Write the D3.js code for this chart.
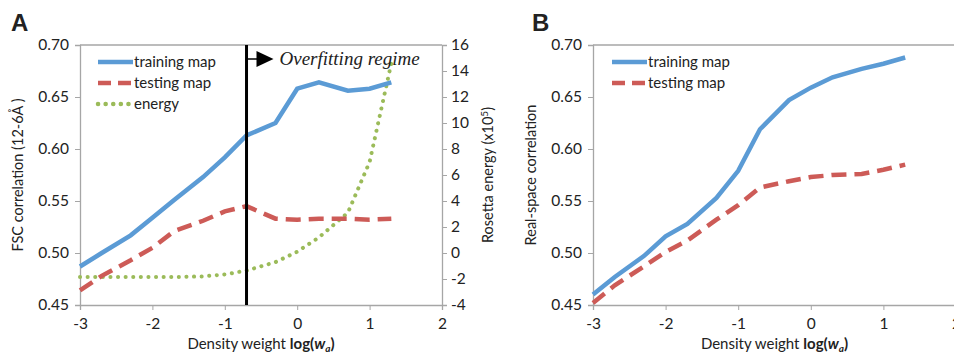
<!DOCTYPE html>
<html>
<head>
<meta charset="utf-8">
<script src="https://cdn.jsdelivr.net/npm/d3@7"></script>
<style>
  body { margin: 0; background: #fff; }
  svg text { font-family: Lato, "Open Sans", sans-serif; fill: #222; }
</style>
</head>
<body>
<svg id="chart" width="954" height="353"></svg>
<script>
// log10 of density weight (0.001 ... 20)
var logW = [-3, -2.7, -2.3, -2, -1.7, -1.3, -1, -0.7, -0.3, 0, 0.3, 0.7, 1, 1.3];

// panel A
var trainA  = [0.487, 0.500, 0.517, 0.534, 0.551, 0.573, 0.592, 0.613, 0.625, 0.658, 0.664, 0.656, 0.658, 0.664];
var testA   = [0.464, 0.478, 0.493, 0.505, 0.521, 0.531, 0.540, 0.545, 0.533, 0.532, 0.533, 0.533, 0.532, 0.533];
var energyA = [-1.85, -1.85, -1.85, -1.85, -1.85, -1.8, -1.65, -1.35, -0.7, 0.1, 1.2, 3.1, 7.0, 14.6];

// panel B
var trainB = [0.460, 0.477, 0.497, 0.516, 0.528, 0.553, 0.579, 0.619, 0.647, 0.659, 0.669, 0.677, 0.682, 0.688];
var testB  = [0.452, 0.469, 0.487, 0.501, 0.512, 0.532, 0.546, 0.563, 0.569, 0.573, 0.575, 0.576, 0.580, 0.585];

var xTicks = [-3, -2, -1, 0, 1, 2];
var yTicks = [0.45, 0.50, 0.55, 0.60, 0.65, 0.70];
var eTicks = [-4, -2, 0, 2, 4, 6, 8, 10, 12, 14, 16];
var overfitAt = -0.7;

var cBlue = "#5b9bd5", cRed = "#cd5b57", cGreen = "#9bbb59", cAxis = "#a6a6a6";

var svg = d3.select("#chart");

// excel style: plain hyphen for negatives
function plain(d) { return String(d); }

function styleAxis(a) {
    a.select(".domain").attr("stroke", cAxis).attr("stroke-width", 1.3);
    a.selectAll(".tick line").attr("stroke", cAxis);
    a.selectAll("text").style("font-size", "15.5px").attr("fill", "#222");
}

function drawPanel(opt) {
    var x = d3.scaleLinear().domain([-3, 2]).range([opt.left, opt.right]);
    var y = d3.scaleLinear().domain([0.45, 0.70]).range([305, 45]);
    var g = svg.append("g");

    // top border
    g.append("line")
        .attr("x1", x(-3)).attr("x2", opt.topEnd || x(2))
        .attr("y1", y(0.70)).attr("y2", y(0.70))
        .attr("stroke", cAxis).attr("stroke-width", 1.3);

    var ax = g.append("g").attr("transform", "translate(0," + y(0.45) + ")")
        .call(d3.axisBottom(x).tickValues(xTicks).tickSize(5).tickPadding(8).tickFormat(plain));
    var ay = g.append("g").attr("transform", "translate(" + x(-3) + ",0)")
        .call(d3.axisLeft(y).tickValues(yTicks).tickSize(5).tickPadding(6).tickFormat(d3.format(".2f")));
    styleAxis(ax);
    styleAxis(ay);

    var line = d3.line().x(function (d) { return x(d[0]); }).y(function (d) { return y(d[1]); });

    if (opt.energy) {
        var ye = d3.scaleLinear().domain([-4, 16]).range([305, 45]);
        var ar = g.append("g").attr("transform", "translate(" + x(2) + ",0)")
            .call(d3.axisRight(ye).tickValues(eTicks).tickSize(5).tickPadding(4).tickFormat(plain));
        styleAxis(ar);

        g.append("path")
            .datum(d3.zip(logW, opt.energy))
            .attr("d", d3.line().x(function (d) { return x(d[0]); }).y(function (d) { return ye(d[1]); }))
            .attr("fill", "none").attr("stroke", cGreen).attr("stroke-width", 4)
            .attr("stroke-linecap", "round").attr("stroke-dasharray", "0.1 7.5");

        svg.append("text").attr("transform", "translate(493,175) rotate(-90)")
            .attr("text-anchor", "middle").style("font-size", "14.5px")
            .html("Rosetta energy (x10<tspan dy='-5' font-size='10px'>5</tspan><tspan dy='5'>)</tspan>");
    }

    g.append("path").datum(d3.zip(logW, opt.test)).attr("d", line)
        .attr("fill", "none").attr("stroke", cRed).attr("stroke-width", 4.5)
        .attr("stroke-dasharray", "15 8");
    g.append("path").datum(d3.zip(logW, opt.train)).attr("d", line)
        .attr("fill", "none").attr("stroke", cBlue).attr("stroke-width", 4.5);

    // legend
    var items = [["training map", cBlue, null], ["testing map", cRed, "13 7"]];
    if (opt.energy) items.push(["energy", cGreen, "0.1 7.5"]);
    items.forEach(function (it, i) {
        var ly = 62 + i * 21;
        g.append("line").attr("x1", opt.legX).attr("x2", opt.legX + 35)
            .attr("y1", ly).attr("y2", ly)
            .attr("stroke", it[1]).attr("stroke-width", 4.5)
            .attr("stroke-dasharray", it[2])
            .attr("stroke-linecap", it[2] && it[2].indexOf("0.1") === 0 ? "round" : "butt");
        g.append("text").attr("x", opt.legX + 36).attr("y", ly + 5)
            .style("font-size", "15px").text(it[0]);
    });

    // y title
    svg.append("text").attr("transform", "translate(" + opt.yTitleX + ",175) rotate(-90)")
        .attr("text-anchor", "middle").style("font-size", "14.5px").text(opt.yTitle);

    // x title
    var xt = svg.append("text").attr("x", x(-0.5)).attr("y", 349)
        .attr("text-anchor", "middle").style("font-size", "15px");
    xt.append("tspan").text("Density weight ");
    xt.append("tspan").style("font-weight", "bold").text("log(");
    xt.append("tspan").style("font-weight", "bold").style("font-style", "italic").text("w");
    xt.append("tspan").style("font-weight", "bold").style("font-style", "italic")
        .style("font-size", "10px").attr("dy", 3).text("a");
    xt.append("tspan").style("font-weight", "bold").attr("dy", -3).text(")");

    // panel letter
    svg.append("text").attr("x", opt.letterX).attr("y", 31)
        .style("font-size", "24px").style("font-weight", "bold")
        .style("font-family", "Liberation Sans, Arial, sans-serif").text(opt.letter);

    return x;
}

var xA = drawPanel({ left: 80, right: 442, train: trainA, test: testA, energy: energyA,
    legX: 98, yTitleX: 23, yTitle: "FSC correlation (12-6Å )", letter: "A", letterX: 11 });

// overfitting marker
svg.append("line").attr("x1", xA(overfitAt)).attr("x2", xA(overfitAt))
    .attr("y1", 45).attr("y2", 305).attr("stroke", "#000").attr("stroke-width", 3);
svg.append("line").attr("x1", xA(overfitAt)).attr("x2", xA(overfitAt) + 12)
    .attr("y1", 59).attr("y2", 59).attr("stroke", "#000").attr("stroke-width", 1.5);
svg.append("path")
    .attr("d", d3.line()([[xA(overfitAt) + 10, 51], [xA(overfitAt) + 27, 59], [xA(overfitAt) + 10, 67]]))
    .attr("fill", "#000");
svg.append("text").attr("x", xA(overfitAt) + 33).attr("y", 65)
    .style("font-family", "Liberation Serif, serif").style("font-style", "italic")
    .style("font-size", "19px").text("Overfitting regime");

drawPanel({ left: 593, right: 956, topEnd: 954, train: trainB, test: testB,
    legX: 612, yTitleX: 536, yTitle: "Real-space correlation", letter: "B", letterX: 532 });
</script>
</body>
</html>
